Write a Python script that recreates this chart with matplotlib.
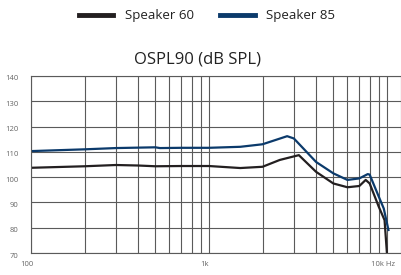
import matplotlib
matplotlib.use("Agg")
import matplotlib.pyplot as plt
import matplotlib.transforms as mtransforms
from matplotlib.ticker import FixedLocator, NullLocator

plt.rcParams['font.family'] = ['Open Sans', 'DejaVu Sans']

# --- data ---
freq_60 = [100, 200, 300, 400, 500, 700, 1000, 1500, 2000, 2500, 3200, 4000,
           5000, 6000, 7000, 7600, 8000, 9000, 9700, 10000]
spl_60 = [103.7, 104.3, 104.8, 104.6, 104.3, 104.4, 104.4, 103.6, 104.1, 106.8,
          108.7, 102.1, 97.5, 96.0, 96.5, 98.9, 97.5, 88.3, 83.0, 70.0]

freq_85 = [100, 200, 300, 500, 530, 700, 1000, 1500, 2000, 2750, 3000, 4000,
           5000, 6000, 7000, 7800, 8000, 9000, 9600, 10200]
spl_85 = [110.3, 111.0, 111.5, 111.8, 111.5, 111.6, 111.6, 112.0, 113.0, 116.2,
          115.3, 106.0, 101.5, 98.9, 99.5, 101.2, 101.0, 92.3, 87.6, 79.1]

series = [("Speaker 60", freq_60, spl_60, "#231f20"),
          ("Speaker 85", freq_85, spl_85, "#0b3a6b")]

y_ticks = [70, 80, 90, 100, 110, 120, 130, 140]
x_grid = [100, 200, 300, 400, 500, 600, 700, 800, 900,
          1000, 2000, 3000, 4000, 5000, 6000, 7000, 8000, 9000, 10000]
x_labels = {100: "100", 1000: "1k", 10000: "10k Hz"}

fig = plt.figure(figsize=(4.01, 2.75), dpi=100)
ax = fig.add_axes([31 / 401, 22 / 275, 370 / 401, 177 / 275])

for name, f, s, c in series:
    ax.plot(f, s, color=c, lw=1.6, label=name, solid_joinstyle="round")

ax.set_xscale("log")
ax.set_xlim(100, 12000)
ax.set_ylim(70, 140)
ax.xaxis.set_major_locator(FixedLocator(x_grid))
ax.xaxis.set_minor_locator(NullLocator())
ax.set_xticklabels([x_labels.get(v, "") for v in x_grid])
ax.set_yticks(y_ticks)
ax.grid(True, color="#5a5a5a", lw=0.8)
ax.set_axisbelow(True)
ax.tick_params(length=0, labelsize=5.5, colors="#666666")
ax.tick_params(axis="y", pad=9)
ax.tick_params(axis="x", pad=6)
for sp in ax.spines.values():
    sp.set_color("#5a5a5a")
    sp.set_linewidth(0.8)

# nudge tick labels like the original artwork
shift_x = mtransforms.ScaledTranslation(-4 / 100, 0, fig.dpi_scale_trans)
for lbl in ax.get_xticklabels():
    lbl.set_transform(lbl.get_transform() + shift_x)
shift_y = mtransforms.ScaledTranslation(0, -2 / 100, fig.dpi_scale_trans)
for lbl in ax.get_yticklabels():
    lbl.set_transform(lbl.get_transform() + shift_y)

fig.text(197 / 401, 1 - 60 / 275, "OSPL90 (dB SPL)", fontsize=12,
         color="#222222", ha="center", va="center")

leg = fig.legend(loc="upper center", bbox_to_anchor=(207 / 401, 1.01), ncol=2,
                 frameon=False, fontsize=9.5, handlelength=2.6,
                 columnspacing=2.0, handletextpad=0.9)
for line in leg.get_lines():
    line.set_linewidth(3.5)
for t in leg.get_texts():
    t.set_color("#222222")

fig.savefig("out.png", dpi=100)
